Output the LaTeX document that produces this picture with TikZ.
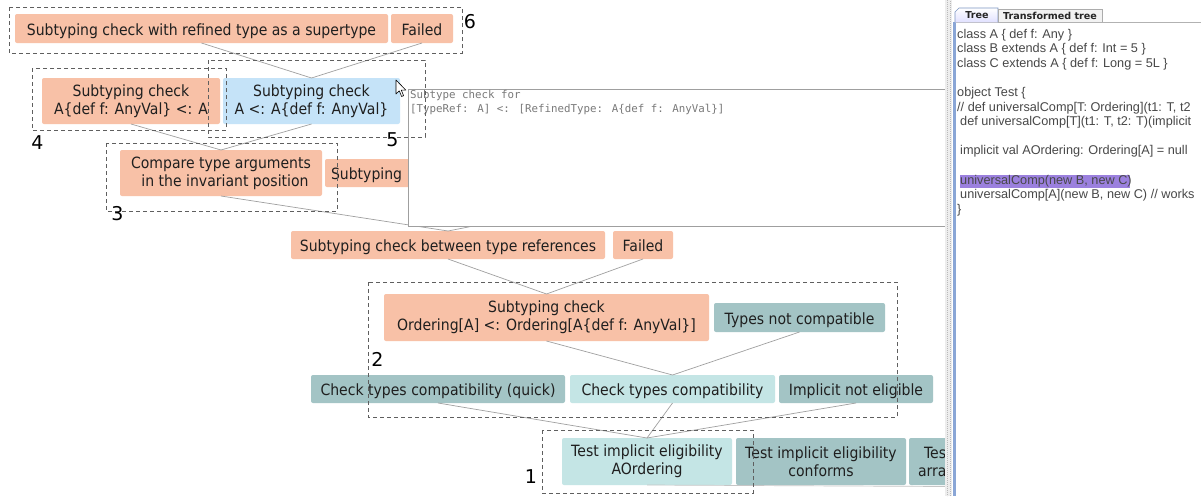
\documentclass[tikz,border=0pt]{standalone}
\usepackage{fontspec}
\setmainfont{DejaVu Sans}
\newfontfamily\boxfont{DejaVu Sans}[FakeStretch=0.905]
\newfontfamily\codefont{Liberation Sans}
\newfontfamily\tipfont{DejaVu Sans Mono}
\definecolor{salmonbox}{RGB}{248,193,167}
\definecolor{bluebox}{RGB}{197,227,248}
\definecolor{tealdark}{RGB}{163,196,197}
\definecolor{teallight}{RGB}{196,229,229}
\definecolor{edgegray}{RGB}{160,160,160}
\definecolor{frame}{RGB}{95,95,95}
\definecolor{codegray}{RGB}{72,72,72}
\definecolor{hilite}{RGB}{155,128,222}
\definecolor{panelblue}{RGB}{138,166,214}
\tikzset{
  box/.style={rounded corners=2pt, inner sep=0pt, outer sep=0pt, align=center,
    text=black!88, font=\boxfont\fontsize{15.5}{18}\selectfont},
  oneline/.style={text height=17pt, text depth=3.4pt},
  salmon/.style={box, fill=salmonbox},
  bluish/.style={box, fill=bluebox},
  tdark/.style={box, fill=tealdark},
  tlight/.style={box, fill=teallight},
  edge/.style={draw=edgegray, line width=0.7pt},
  group/.style={draw=frame, line width=1pt, dash pattern=on 4pt off 3pt},
  tag/.style={font=\fontsize{19}{19}\selectfont, text=black, inner sep=0pt},
}
% node placed by its corners: name, style, x1, y1, x2, y2, text
\newcommand\cornerbox[7]{%
  \node[#2, minimum width={(#5-#3)*1pt}, minimum height={(#6-#4)*1pt}]
    (#1) at ({(#3+#5)/2},{(#4+#6)/2}) {#7};}
\begin{document}
\begin{tikzpicture}[x=1pt, y=-1pt]
\useasboundingbox (0,0) rectangle (1201,496);
\fill[white] (0,0) rectangle (1201,496);

% ---- tree nodes ----
\cornerbox{refsup}{salmon,oneline}{15}{14}{388}{43}{Subtyping check with refined type as a supertype}
\cornerbox{failtop}{salmon,oneline}{391}{14}{453}{43}{Failed}
\cornerbox{leftchk}{salmon}{42}{78}{220}{124}{Subtyping check\\A\{def f: AnyVal\} <: A}
\cornerbox{rightchk}{bluish}{223}{78}{400}{124}{Subtyping check\\A <: A\{def f: AnyVal\}}
\cornerbox{cmpargs}{salmon}{120}{150}{322}{196}{Compare type arguments\\\hspace*{8pt}in the invariant position}
\node[salmon, oneline, minimum width=694pt, minimum height=28pt, text width=682pt, align=left]
  (subpart) at (672,173) {Subtyping};
\cornerbox{typerefs}{salmon,oneline}{291}{231}{605}{259}{Subtyping check between type references}
\cornerbox{failmid}{salmon,oneline}{613}{231}{673}{259}{Failed}
\cornerbox{ordchk}{salmon}{384}{294}{709}{341}{Subtyping check\\Ordering[A] <: Ordering[A\{def f: AnyVal\}]}
\cornerbox{notcompat}{tdark,oneline}{714}{303}{885}{332}{Types not compatible}
\cornerbox{quick}{tdark,oneline}{311}{375}{565}{403}{Check types compatibility (quick)}
\cornerbox{compat}{tlight,oneline}{570}{375}{775}{403}{Check types compatibility}
\cornerbox{noteligible}{tdark,oneline}{779}{375}{933}{403}{Implicit not eligible}
\cornerbox{testA}{tlight}{562}{438}{732}{485}{Test implicit eligibility\\AOrdering}
\cornerbox{testconf}{tdark}{736}{438}{906}{485}{Test implicit eligibility\\conforms}
\node[tdark, minimum width=180pt, minimum height=47pt, text width=168pt, align=left]
  (testarr) at (999,461.5) {\hspace*{9pt}Tes\\\hspace*{3pt}arra};

% ---- connectors ----
\coordinate (rowend) at (945,486.5);
\path[edge] (refsup.south) -- (rightchk.north);
\path[edge] (failtop.south) -- (rightchk.north);
\path[edge] (leftchk.south) -- (cmpargs.north);
\path[edge] (rightchk.south) -- (cmpargs.north);
\path[edge] (cmpargs.south) -- (typerefs.north);
\path[edge] (subpart.south) -- (typerefs.north);
\path[edge] (typerefs.south) -- (ordchk.north);
\path[edge] (failmid.south) -- (ordchk.north);
\path[edge] (ordchk.south) -- (compat.north);
\path[edge] (notcompat.south) -- (compat.north);
\path[edge] (quick.south) -- (testA.north);
\path[edge] (compat.south) -- (testA.north);
\path[edge] (noteligible.south) -- (testA.north);
\path[edge, draw=gray!45] (testA.south) -- (rowend);

% ---- tooltip ----
\node[draw=gray!75, line width=1.4pt, fill=white, minimum width=560pt, minimum height=137pt,
  inner sep=0pt, anchor=north west] (tooltip) at (408,89) {};
\node[anchor=north west, inner sep=0pt, align=left, text=gray!95!black,
  font=\tipfont\fontsize{10.8}{13.6}\selectfont] (tiptext) at (410,90.5)
  {Subtype check for\\{}[TypeRef: A] <: [RefinedType: A\{def f: AnyVal\}]};

% ---- mouse pointer ----
\filldraw[fill=white, draw=black, line width=0.6pt, line join=round]
  (396,80) -- (396,94) -- (399.3,90.8) -- (401.6,96.5) -- (403.6,95.7)
  -- (401.3,90.1) -- (405.8,90.1) -- cycle;

% ---- dashed groups and their numbers ----
\draw[group] (9,7) rectangle (462,53);
\draw[group] (32,68) rectangle (226,130);
\draw[group] (208,60) rectangle (425,137);
\draw[group] (106,143) rectangle (337,211);
\draw[group] (368,282) rectangle (897,417);
\draw[group] (542,430) rectangle (753,493);
\node[tag] (g6) at (470,22) {6};
\node[tag] (g4) at (37.5,142.5) {4};
\node[tag] (g5) at (392.5,139.5) {5};
\node[tag] (g3) at (117.5,214) {3};
\node[tag] (g2) at (377.5,359.5) {2};
\node[tag] (g1) at (531,477) {1};

% ---- side panel with the source code ----
\fill[white] (945,0) rectangle (1201,496);
\fill[gray!14] (945,0) rectangle (952,496);
\draw[gray!55, line width=0.8pt, dash pattern=on 0.8pt off 1.2pt] (947.5,0) -- (947.5,496);
\draw[gray!55, line width=0.8pt, dash pattern=on 0.8pt off 1.2pt] (950,1) -- (950,496);
\fill[panelblue] (952.8,22) rectangle (955.6,496);
\draw[gray!60, line width=0.6pt] (955.6,22) -- (1201,22);
\shade[top color=white, bottom color=blue!12, draw=panelblue!90!black, line width=0.6pt]
  (955,22.3) -- (955,12) -- (959,8) -- (998,8) -- (998,22.3);
\filldraw[fill=gray!10, draw=gray!65, line width=0.6pt]
  (998,22) -- (998,9) -- (1102,9) -- (1102,22);
\node[font=\bfseries\fontsize{9.6}{10}\selectfont, text=black!85, inner sep=0pt] (tabtree) at (977,15.5) {Tree};
\node[font=\bfseries\fontsize{9.6}{10}\selectfont, text=black!85, inner sep=0pt] (tabtrans) at (1050,15.8) {Transformed tree};
\begin{scope}
\clip (956,23) rectangle (1201,496);
\fill[hilite] (960,174.5) rectangle (1130,188);
\node[anchor=north west, inner sep=0pt, align=left, text=codegray,
  font=\codefont\fontsize{12.7}{14.6}\selectfont] (code) at (957,28.6)
  {class A \{ def f: Any \}\\
   class B extends A \{ def f: Int = 5 \}\\
   class C extends A \{ def f: Long = 5L \}\\
   \strut\\
   object Test \{\\
   // def universalComp[T: Ordering](t1: T, t2\\
   \hspace*{3pt}def universalComp[T](t1: T, t2: T)(implicit\\
   \strut\\
   \hspace*{3pt}implicit val AOrdering: Ordering[A] = null\\
   \strut\\
   \hspace*{3pt}universalComp(new B, new C)\\
   \hspace*{3pt}universalComp[A](new B, new C) // works\\
   \}};
\end{scope}
\end{tikzpicture}
\end{document}
